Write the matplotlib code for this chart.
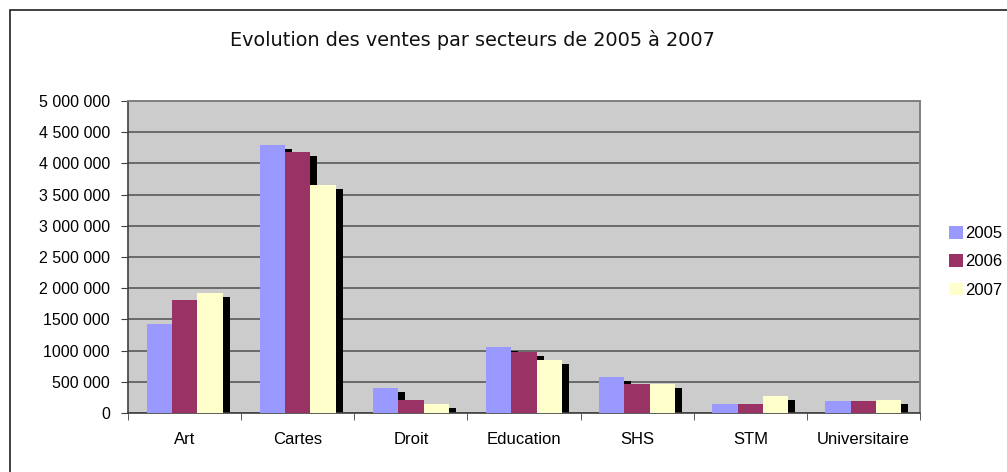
import matplotlib
matplotlib.use('Agg')
import matplotlib.pyplot as plt
import matplotlib.transforms as mtransforms
from matplotlib.patches import Rectangle, Patch
import numpy as np


TITLE = 'Evolution des ventes par secteurs de 2005 à 2007'
SECTEURS = ['Art', 'Cartes', 'Droit', 'Education', 'SHS', 'STM', 'Universitaire']
ANNEES = ['2005', '2006', '2007']

# ventes (en euros)
VENTES_2005 = [1430000, 4300000, 400000, 1050000, 580000, 150000, 200000]
VENTES_2006 = [1810000, 4190000, 210000, 980000, 470000, 150000, 200000]
VENTES_2007 = [1930000, 3660000, 145000, 850000, 470000, 280000, 210000]

Y_TICKS = [0, 500000, 1000000, 1500000, 2000000, 2500000, 3000000,
           3500000, 4000000, 4500000, 5000000]
Y_LABELS = ['0', '500 000', '1000 000', '1500 000', '2 000 000', '2 500 000',
            '3 000 000', '3 500 000', '4 000 000', '4 500 000', '5 000 000']

COULEURS = ['#9999ff', '#993366', '#ffffcc']

W, H = 1007, 472
FONT = ['Liberation Sans', 'DejaVu Sans']


def main() -> None:
    fig = plt.figure(figsize=(W / 100, H / 100), dpi=100)
    fig.patch.set_facecolor('white')

    # cadre du graphique (coupé à droite et en bas dans l'image)
    fig.patches.append(Rectangle((10 / W, -10 / H), 1010 / W, 472 / H,
                                 transform=fig.transFigure, fill=False,
                                 edgecolor='#202020', linewidth=1.2))

    ax = fig.add_axes([128 / W, 1 - 413 / H, 792 / W, 312 / H])
    ax.set_facecolor('#cccccc')

    series = [VENTES_2005, VENTES_2006, VENTES_2007]
    x = np.arange(len(SECTEURS))
    width = 0.224

    # ombres d'abord, puis les barres
    shadow = mtransforms.offset_copy(ax.transData, fig=fig, x=7, y=-4, units='dots')
    for j, vals in enumerate(series):
        ax.bar(x + (j - 1) * width, vals, width, color='black', linewidth=0,
               transform=shadow, zorder=2)
    for j, vals in enumerate(series):
        ax.bar(x + (j - 1) * width, vals, width, color=COULEURS[j], linewidth=0,
               zorder=3, label=ANNEES[j])

    ax.set_xlim(-0.5, len(SECTEURS) - 0.5)
    ax.set_ylim(0, 5000000)
    ax.set_yticks(Y_TICKS)
    ax.set_yticklabels(Y_LABELS, family=FONT, fontsize=11.5)
    ax.yaxis.grid(True, color='#6a6a6a', linewidth=1.4)
    ax.set_axisbelow(True)

    ax.set_xticks(x)
    ax.set_xticklabels(SECTEURS, family=FONT, fontsize=12)
    ax.set_xticks(np.arange(len(SECTEURS) + 1) - 0.5, minor=True)
    ax.tick_params(axis='x', which='major', length=0, pad=14)
    ax.tick_params(axis='x', which='minor', length=5, direction='out', color='#404040')
    ax.tick_params(axis='y', length=5, direction='out', color='#404040', pad=8)

    for side in ['top', 'right']:
        ax.spines[side].set_color('#808080')
        ax.spines[side].set_linewidth(1.4)
    for side in ['left', 'bottom']:
        ax.spines[side].set_color('#404040')
        ax.spines[side].set_linewidth(1.2)

    fig.text(472 / W, 1 - 40 / H, TITLE, ha='center', va='center',
             family=['DejaVu Sans'], fontsize=13.9, color='#111111')

    handles = [Patch(facecolor=c, edgecolor='none') for c in COULEURS]
    fig.legend(handles, ANNEES, loc='upper left',
               bbox_to_anchor=(949 / W, 1 - 226 / H), frameon=False,
               handlelength=0.84, handleheight=0.78, handletextpad=0.12,
               labelspacing=0.8, borderaxespad=0, borderpad=0,
               prop={'family': FONT, 'size': 12})

    fig.savefig('out.png', dpi=100)
    plt.close(fig)


if __name__ == '__main__':
    main()
